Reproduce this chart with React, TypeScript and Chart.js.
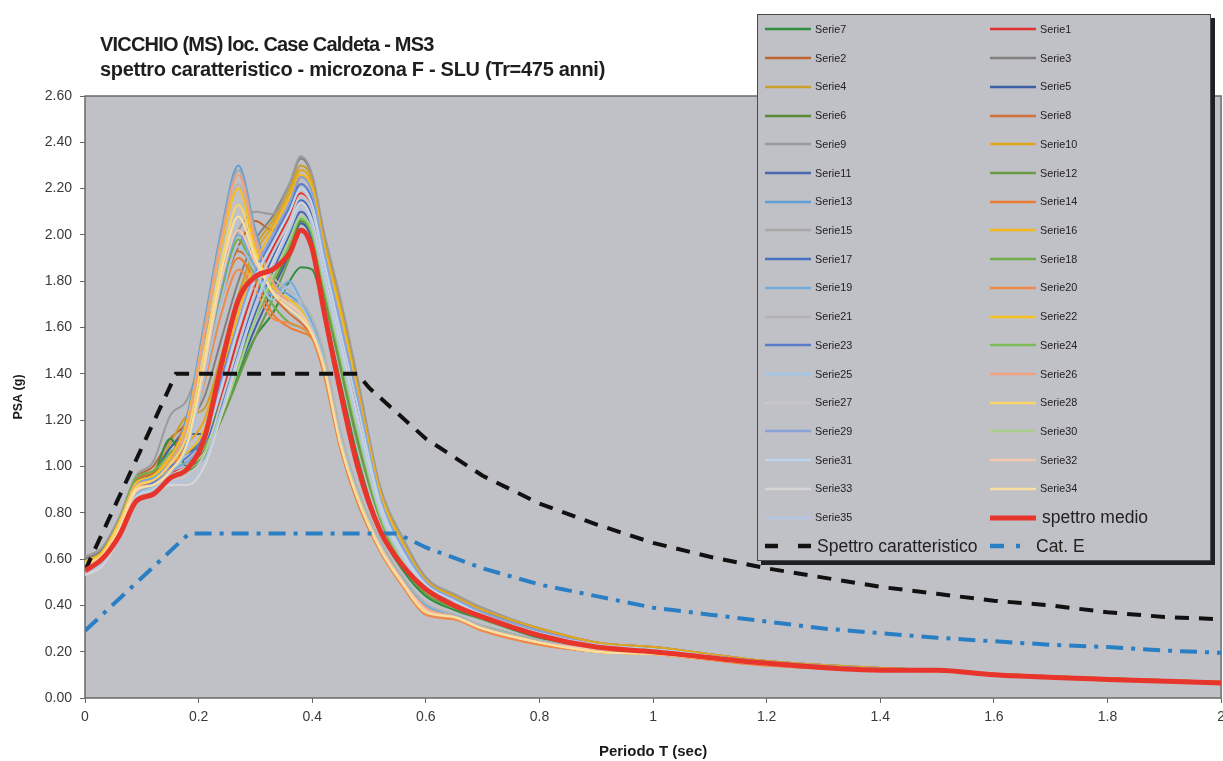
import React, { useEffect, useRef } from 'react';
import { Chart, registerables } from 'chart.js';

Chart.register(...registerables);

// ---------- DATA ----------
const T_SEC = [0, 0.03, 0.06, 0.09, 0.12, 0.15, 0.18, 0.21, 0.24, 0.27, 0.30, 0.33, 0.36, 0.38, 0.40, 0.42, 0.45, 0.48, 0.52, 0.56, 0.60, 0.65, 0.70, 0.80, 0.90, 1.0, 1.2, 1.4, 1.5, 1.6, 1.8, 2.0];

const SERIE_1 = [0.57,0.61,0.72,0.88,0.91,0.97,1.00,1.08, 1.30,1.56,1.78,1.94,2.08,2.18,2.10,1.88, 1.56,1.24,0.83,0.62,0.48,0.41,0.36,0.28, 0.23,0.21,0.15,0.12,0.12,0.10,0.08,0.066];
const SERIE_2 = [0.60,0.64,0.77,0.95,1.00,1.12,1.20,1.45, 1.76,1.95,2.06,2.02,2.12,2.25,2.20,1.98, 1.68,1.34,0.90,0.68,0.52,0.44,0.38,0.30, 0.24,0.22,0.16,0.13,0.12,0.105,0.085,0.07];
const SERIE_3 = [0.60,0.64,0.77,0.95,0.98,1.08,1.18,1.30, 1.55,1.80,1.98,2.08,2.22,2.33,2.25,2.00, 1.70,1.36,0.90,0.68,0.52,0.44,0.38,0.30, 0.24,0.22,0.16,0.13,0.12,0.105,0.085,0.07];
const SERIE_4 = [0.59,0.63,0.76,0.94,0.98,1.10,1.22,1.25, 1.48,1.74,1.95,2.06,2.20,2.30,2.24,2.00, 1.70,1.36,0.90,0.68,0.52,0.44,0.38,0.30, 0.24,0.22,0.16,0.13,0.12,0.105,0.085,0.07];
const SERIE_5 = [0.58,0.62,0.75,0.93,0.97,1.08,1.14,1.14, 1.24,1.42,1.60,1.76,1.92,2.05,1.98,1.76, 1.44,1.12,0.78,0.58,0.46,0.40,0.35,0.27, 0.22,0.21,0.15,0.12,0.115,0.10,0.08,0.066];
const SERIE_6 = [0.58,0.62,0.74,0.91,0.94,1.02,1.06,1.12, 1.28,1.46,1.64,1.78,1.94,2.06,2.00,1.78, 1.46,1.14,0.78,0.58,0.46,0.40,0.35,0.27, 0.22,0.21,0.15,0.12,0.115,0.10,0.08,0.066];
const SERIE_7 = [0.57,0.61,0.73,0.90,0.96,1.12,1.00,1.06, 1.22,1.40,1.56,1.66,1.80,1.86,1.85,1.68, 1.36,1.04,0.72,0.55,0.44,0.38,0.34,0.26, 0.22,0.20,0.15,0.12,0.115,0.10,0.08,0.066];
const SERIE_8 = [0.59,0.63,0.76,0.94,0.97,1.04,1.22,1.55, 1.80,1.93,1.86,1.74,1.66,1.62,1.56,1.42, 1.10,0.86,0.64,0.49,0.37,0.35,0.30,0.24, 0.20,0.19,0.145,0.12,0.115,0.10,0.08,0.065];
const SERIE_9 = [0.61,0.65,0.78,0.96,1.02,1.22,1.29,1.52, 1.84,2.02,2.10,2.09,2.22,2.34,2.26,2.02, 1.72,1.38,0.91,0.69,0.52,0.45,0.39,0.30, 0.24,0.22,0.16,0.13,0.12,0.105,0.085,0.07];
const SERIE_10 = [0.58,0.62,0.75,0.92,0.96,1.04,1.10,1.20, 1.45,1.70,1.92,2.04,2.18,2.28,2.22,1.98, 1.68,1.34,0.89,0.67,0.51,0.44,0.38,0.30, 0.24,0.22,0.16,0.13,0.12,0.105,0.085,0.07];
const SERIE_11 = [0.57,0.61,0.73,0.90,0.93,1.00,1.06,1.10, 1.26,1.46,1.66,1.84,2.00,2.10,2.03,1.82, 1.50,1.18,0.80,0.60,0.47,0.40,0.35,0.27, 0.22,0.21,0.15,0.12,0.115,0.10,0.08,0.066];
const SERIE_12 = [0.56,0.60,0.72,0.88,0.90,0.96,0.98,1.04, 1.20,1.38,1.56,1.72,1.90,2.02,1.96,1.74, 1.42,1.10,0.77,0.57,0.45,0.39,0.34,0.27, 0.22,0.21,0.15,0.12,0.115,0.10,0.08,0.066];
const SERIE_13 = [0.57,0.62,0.74,0.93,0.95,1.02,1.22,1.62, 2.02,2.30,2.02,1.80,1.74,1.70,1.62,1.48, 1.14,0.90,0.67,0.52,0.40,0.36,0.31,0.25, 0.21,0.20,0.15,0.125,0.115,0.10,0.08,0.066];
const SERIE_14 = [0.58,0.62,0.75,0.92,0.94,1.00,1.12,1.40, 1.72,1.90,1.80,1.66,1.60,1.58,1.55,1.40, 1.07,0.84,0.63,0.48,0.36,0.34,0.29,0.23, 0.20,0.19,0.14,0.12,0.115,0.10,0.08,0.065];
const SERIE_15 = [0.56,0.61,0.73,0.90,0.93,1.00,1.20,1.60, 2.00,2.28,2.00,1.78,1.72,1.70,1.60,1.46, 1.12,0.88,0.66,0.51,0.40,0.35,0.31,0.25, 0.21,0.20,0.15,0.125,0.115,0.10,0.08,0.066];
const SERIE_16 = [0.58,0.62,0.74,0.91,0.95,1.02,1.06,1.16, 1.40,1.66,1.88,2.02,2.16,2.26,2.20,1.96, 1.66,1.32,0.88,0.66,0.50,0.43,0.37,0.29, 0.23,0.21,0.155,0.125,0.12,0.10,0.08,0.068];
const SERIE_17 = [0.56,0.60,0.72,0.88,0.92,0.98,1.02,1.08, 1.28,1.50,1.72,1.90,2.04,2.15,2.08,1.86, 1.54,1.22,0.82,0.62,0.48,0.41,0.36,0.28, 0.23,0.21,0.15,0.12,0.12,0.10,0.08,0.066];
const SERIE_18 = [0.59,0.63,0.76,0.95,0.98,1.06,1.14,1.44, 1.76,1.98,1.82,1.70,1.62,1.60,1.56,1.44, 1.12,0.88,0.66,0.50,0.39,0.35,0.31,0.25, 0.21,0.20,0.15,0.12,0.115,0.10,0.08,0.065];
const SERIE_19 = [0.58,0.62,0.74,0.92,0.95,1.02,1.12,1.42, 1.78,2.00,1.86,1.74,1.80,1.72,1.62,1.48, 1.14,0.89,0.67,0.51,0.40,0.36,0.31,0.25, 0.21,0.20,0.15,0.125,0.115,0.10,0.08,0.066];
const SERIE_20 = [0.57,0.61,0.74,0.91,0.93,0.99,1.10,1.36, 1.66,1.85,1.76,1.64,1.62,1.60,1.56,1.41, 1.08,0.85,0.63,0.48,0.36,0.34,0.29,0.23, 0.20,0.19,0.14,0.12,0.115,0.10,0.08,0.065];
const SERIE_21 = [0.57,0.61,0.74,0.91,0.94,1.00,1.16,1.55, 1.95,2.22,1.96,1.82,1.76,1.72,1.64,1.50, 1.15,0.90,0.68,0.52,0.41,0.36,0.31,0.25, 0.21,0.20,0.15,0.125,0.115,0.10,0.08,0.066];
const SERIE_22 = [0.59,0.63,0.76,0.93,0.96,1.04,1.20,1.58, 1.96,2.20,1.94,1.78,1.72,1.68,1.60,1.46, 1.12,0.88,0.66,0.50,0.38,0.35,0.30,0.24, 0.20,0.19,0.145,0.12,0.115,0.10,0.08,0.065];
const SERIE_23 = [0.57,0.61,0.73,0.89,0.93,1.00,1.04,1.14, 1.38,1.62,1.84,1.98,2.12,2.22,2.15,1.92, 1.60,1.28,0.85,0.64,0.49,0.42,0.37,0.29, 0.23,0.21,0.155,0.125,0.12,0.10,0.08,0.068];
const SERIE_24 = [0.56,0.60,0.72,0.88,0.91,0.98,1.02,1.08, 1.24,1.44,1.64,1.80,1.96,2.07,2.00,1.78, 1.46,1.14,0.78,0.58,0.46,0.40,0.35,0.27, 0.22,0.21,0.15,0.12,0.115,0.10,0.08,0.066];
const SERIE_25 = [0.55,0.60,0.72,0.88,0.91,0.97,1.08,1.38, 1.72,1.95,1.84,1.72,1.78,1.70,1.60,1.46, 1.12,0.88,0.66,0.50,0.39,0.35,0.30,0.24, 0.21,0.20,0.15,0.12,0.115,0.10,0.08,0.065];
const SERIE_26 = [0.58,0.62,0.75,0.92,0.94,1.02,1.18,1.58, 1.98,2.26,1.98,1.80,1.70,1.66,1.58,1.44, 1.10,0.86,0.65,0.50,0.39,0.35,0.30,0.24, 0.21,0.20,0.15,0.12,0.115,0.10,0.08,0.065];
const SERIE_27 = [0.54,0.58,0.70,0.86,0.89,0.94,0.96,1.05, 1.28,1.52,1.76,1.92,2.06,2.17,2.10,1.88, 1.55,1.22,0.82,0.62,0.48,0.41,0.36,0.28, 0.23,0.21,0.15,0.12,0.12,0.10,0.08,0.066];
const SERIE_28 = [0.58,0.62,0.75,0.91,0.94,1.01,1.14,1.50, 1.88,2.13,1.92,1.76,1.70,1.66,1.58,1.44, 1.10,0.87,0.65,0.50,0.38,0.35,0.30,0.24, 0.20,0.19,0.145,0.12,0.115,0.10,0.08,0.065];
const SERIE_29 = [0.56,0.60,0.72,0.88,0.92,0.98,1.02,1.12, 1.36,1.62,1.85,2.00,2.14,2.25,2.18,1.94, 1.62,1.30,0.86,0.65,0.50,0.43,0.37,0.29, 0.23,0.21,0.155,0.125,0.12,0.10,0.08,0.068];
const SERIE_30 = [0.55,0.59,0.71,0.87,0.90,0.96,1.00,1.06, 1.22,1.42,1.64,1.82,1.98,2.08,2.02,1.80, 1.48,1.16,0.79,0.59,0.46,0.40,0.35,0.27, 0.22,0.21,0.15,0.12,0.115,0.10,0.08,0.066];
const SERIE_31 = [0.55,0.59,0.71,0.87,0.90,0.96,1.00,1.10, 1.34,1.60,1.82,1.96,2.10,2.20,2.13,1.90, 1.58,1.26,0.84,0.63,0.49,0.42,0.36,0.28, 0.23,0.21,0.15,0.125,0.12,0.10,0.08,0.067];
const SERIE_32 = [0.56,0.60,0.72,0.89,0.92,0.98,1.10,1.42, 1.80,2.02,1.88,1.76,1.70,1.66,1.58,1.44, 1.10,0.86,0.65,0.50,0.38,0.35,0.30,0.24, 0.21,0.20,0.15,0.12,0.115,0.10,0.08,0.065];
const SERIE_33 = [0.53,0.57,0.69,0.85,0.88,0.92,0.92,1.00, 1.22,1.46,1.70,1.88,2.04,2.14,2.06,1.84, 1.52,1.20,0.81,0.61,0.47,0.40,0.35,0.27, 0.22,0.21,0.15,0.12,0.115,0.10,0.08,0.066];
const SERIE_34 = [0.57,0.61,0.73,0.90,0.92,0.98,1.10,1.45, 1.84,2.08,1.90,1.75,1.68,1.64,1.57,1.43, 1.09,0.86,0.64,0.49,0.37,0.35,0.30,0.24, 0.20,0.19,0.145,0.12,0.115,0.10,0.08,0.065];
const SERIE_35 = [0.54,0.58,0.70,0.86,0.88,0.93,0.94,1.02, 1.24,1.48,1.70,1.86,2.02,2.12,2.04,1.82, 1.50,1.18,0.80,0.60,0.47,0.40,0.35,0.27, 0.22,0.21,0.15,0.12,0.115,0.10,0.08,0.066];

const SPETTRO_MEDIO = [0.55,0.60,0.70,0.85,0.88,0.95,0.99,1.12, 1.44,1.72,1.82,1.85,1.92,2.02,1.94,1.68, 1.32,1.00,0.72,0.57,0.47,0.40,0.35,0.27, 0.22,0.20,0.15,0.12,0.12,0.10,0.08,0.065];

const CARATT_T = [0, 0.16, 0.48, 0.5, 0.6, 0.7, 0.8, 0.9, 1.0, 1.1, 1.2, 1.3, 1.4, 1.5, 1.6, 1.7, 1.8, 1.9, 2.0];
const CARATT_PSA = [0.55, 1.40, 1.40, 1.34, 1.12, 0.96, 0.84, 0.75, 0.67, 0.61, 0.56, 0.52, 0.48, 0.45, 0.42, 0.40, 0.37, 0.35, 0.34];

const CATE_T = [0, 0.183, 0.55, 0.6, 0.7, 0.8, 0.9, 1.0, 1.1, 1.2, 1.3, 1.4, 1.5, 1.6, 1.7, 1.8, 1.9, 2.0];
const CATE_PSA = [0.29, 0.71, 0.71, 0.65, 0.56, 0.49, 0.44, 0.39, 0.36, 0.33, 0.30, 0.28, 0.26, 0.245, 0.23, 0.22, 0.205, 0.195];

const SERIES_VALUES = [
  SERIE_1, SERIE_2, SERIE_3, SERIE_4, SERIE_5, SERIE_6, SERIE_7, SERIE_8, SERIE_9, SERIE_10,
  SERIE_11, SERIE_12, SERIE_13, SERIE_14, SERIE_15, SERIE_16, SERIE_17, SERIE_18, SERIE_19, SERIE_20,
  SERIE_21, SERIE_22, SERIE_23, SERIE_24, SERIE_25, SERIE_26, SERIE_27, SERIE_28, SERIE_29, SERIE_30,
  SERIE_31, SERIE_32, SERIE_33, SERIE_34, SERIE_35,
];

const SERIES_COLORS = [
  '#e3312f', '#c0632e', '#808080', '#c8a02a', '#3c5fa6', '#5a8a36', '#2f8f3f', '#d2723a', '#9b9b9b', '#e0a61e',
  '#4a67b0', '#6b9b44', '#5f9fd6', '#ec7c34', '#a8a8a8', '#f4b71c', '#4670c0', '#6fae48', '#72abdc', '#f08a4a',
  '#b3b3b3', '#f6c11c', '#5a7cc8', '#7dbb55', '#9fc5e8', '#f3a07e', '#c8c8c8', '#f9d468', '#8aa4d8', '#a8cf8c',
  '#bcd5ec', '#f3c8ae', '#d6d6d6', '#f8e0a0', '#b3c6e6',
];

const LEGEND_SERIES_ORDER = [7, 1, 2, 3, 4, 5, 6, 8, 9, 10, 11, 12, 13, 14, 15, 16, 17, 18, 19, 20,
  21, 22, 23, 24, 25, 26, 27, 28, 29, 30, 31, 32, 33, 34, 35];

const TITLE_LINES = ['VICCHIO (MS) loc. Case Caldeta - MS3', 'spettro caratteristico - microzona F - SLU (Tr=475 anni)'];
const X_TITLE = 'Periodo T (sec)';
const Y_TITLE = 'PSA (g)';
const LABEL_MEDIO = 'spettro medio';
const LABEL_CARATT = 'Spettro caratteristico';
const LABEL_CATE = 'Cat. E';

// ---------- STYLE ----------
const FONT = "'Liberation Sans', Arial, sans-serif";
const PLOT_BG = '#c0c1c6';
const MEDIO_COLOR = '#e8352c';
const CARATT_COLOR = '#111111';
const CATE_COLOR = '#2a7fc4';
const CARATT_DASH = [14, 10];
const CATE_DASH = [17, 8, 4, 8];
const TITLE_SPACING = [-0.8, -0.3];

const xy = (xs: number[], ys: number[]) => xs.map((x, i) => ({ x, y: ys[i] }));

function Sample({ color, width, dash, len = 46 }: { color: string; width: number; dash?: number[]; len?: number }) {
  return (
    <svg width={len} height={10} style={{ display: 'block', flex: 'none' }}>
      <line x1={0} y1={5} x2={len} y2={5} stroke={color} strokeWidth={width}
        strokeDasharray={dash ? dash.join(' ') : undefined} />
    </svg>
  );
}

export default function App() {
  const ref = useRef<HTMLCanvasElement>(null);

  useEffect(() => {
    document.body.style.margin = '0';
    const canvas = ref.current;
    if (!canvas) return;

    const plotBg = {
      id: 'plotBg',
      beforeDraw(chart: any) {
        const { ctx, chartArea } = chart;
        const { left, top, right, bottom } = chartArea;
        ctx.save();
        ctx.fillStyle = PLOT_BG;
        ctx.fillRect(left, top, right - left, bottom - top);
        ctx.restore();
      },
      beforeDatasetsDraw(chart: any) {
        const { ctx, chartArea } = chart;
        const { left, top, right, bottom } = chartArea;
        ctx.save();
        ctx.strokeStyle = '#6a6a6a';
        ctx.lineWidth = 1.5;
        ctx.strokeRect(left, top, right - left, bottom - top);
        ctx.restore();
      },
    };

    const seriesDatasets = SERIES_VALUES.map((vals, i) => ({
      label: 'Serie' + (i + 1),
      data: xy(T_SEC, vals),
      borderColor: SERIES_COLORS[i],
      borderWidth: 2,
      pointRadius: 0,
      cubicInterpolationMode: 'monotone' as const,
      fill: false,
    })).reverse();

    const chart = new Chart(canvas, {
      type: 'line',
      data: {
        datasets: [
          {
            label: LABEL_MEDIO,
            data: xy(T_SEC, SPETTRO_MEDIO),
            borderColor: MEDIO_COLOR,
            borderWidth: 5,
            pointRadius: 0,
            cubicInterpolationMode: 'monotone',
          },
          {
            label: LABEL_CARATT,
            data: xy(CARATT_T, CARATT_PSA),
            borderColor: CARATT_COLOR,
            borderWidth: 4,
            borderDash: CARATT_DASH,
            pointRadius: 0,
            tension: 0,
          },
          {
            label: LABEL_CATE,
            data: xy(CATE_T, CATE_PSA),
            borderColor: CATE_COLOR,
            borderWidth: 4,
            borderDash: CATE_DASH,
            pointRadius: 0,
            tension: 0,
          },
          ...seriesDatasets,
        ] as any,
      },
      options: {
        animation: false,
        responsive: false,
        maintainAspectRatio: false,
        layout: { padding: { top: 96, left: 0, right: 0, bottom: 0 } },
        plugins: {
          legend: { display: false },
          tooltip: { enabled: false },
          title: { display: false },
        },
        scales: {
          x: {
            type: 'linear',
            min: 0,
            max: 2,
            ticks: {
              stepSize: 0.2,
              padding: 6,
              color: '#3a3a3a',
              font: { family: FONT, size: 14 },
              callback: (v: any) => String(Math.round(Number(v) * 10) / 10),
              maxRotation: 0,
            },
            grid: { display: true, drawOnChartArea: false, drawTicks: true, tickLength: 5, color: '#666' },
            border: { display: false },
            title: {
              display: true,
              text: X_TITLE,
              color: '#1a1a1a',
              font: { family: FONT, size: 15, weight: 'bold' },
              padding: { top: 16, bottom: 0 },
            },
            afterFit: (s: any) => { s.height = 63; },
          },
          y: {
            min: 0,
            max: 2.6,
            ticks: {
              stepSize: 0.2,
              padding: 8,
              color: '#3a3a3a',
              font: { family: FONT, size: 14 },
              callback: (v: any) => Number(v).toFixed(2),
            },
            grid: { display: true, drawOnChartArea: false, drawTicks: true, tickLength: 5, color: '#666' },
            border: { display: false },
            title: {
              display: true,
              text: Y_TITLE,
              color: '#1a1a1a',
              font: { family: FONT, size: 12.5, weight: 'bold' },
              padding: { top: 11, bottom: 0 },
            },
            afterFit: (s: any) => { s.width = 85; },
          },
        },
      } as any,
      plugins: [plotBg],
    });

    return () => chart.destroy();
  }, []);

  const legendItems: { key: string; label: string; sample: React.ReactNode; big: boolean }[] = [];
  LEGEND_SERIES_ORDER.forEach((n) => {
    legendItems.push({
      key: 'S' + n,
      label: 'Serie' + n,
      sample: <Sample color={SERIES_COLORS[n - 1]} width={2.5} />,
      big: false,
    });
  });
  legendItems.push({ key: 'medio', label: LABEL_MEDIO, sample: <Sample color={MEDIO_COLOR} width={5} />, big: true });
  legendItems.push({ key: 'caratt', label: LABEL_CARATT, sample: <Sample color={CARATT_COLOR} width={4.5} dash={[13, 20]} />, big: true });
  legendItems.push({ key: 'cate', label: LABEL_CATE, sample: <Sample color={CATE_COLOR} width={4.5} dash={[14, 12, 4, 20]} len={40} />, big: true });

  return (
    <div style={{ position: 'absolute', left: 0, top: 0, width: 1223, height: 761, background: '#ffffff', overflow: 'hidden' }}>
      <canvas ref={ref} width={1231} height={761} style={{ display: 'block', width: 1231, height: 761 }} />
      <div style={{
        position: 'absolute', left: 100, top: 32, fontFamily: FONT, fontWeight: 'bold',
        fontSize: 20, lineHeight: '25px', color: '#1e1e1e', whiteSpace: 'nowrap',
      }}>
        {TITLE_LINES.map((t, i) => <div key={t} style={{ letterSpacing: TITLE_SPACING[i] }}>{t}</div>)}
      </div>
      <div style={{
        position: 'absolute', left: 757, top: 14, width: 452, height: 545,
        background: PLOT_BG, border: '1px solid #4a4a4a', boxShadow: '4px 4px 0 #1d2124',
        display: 'grid', gridTemplateColumns: '232px 1fr', gridAutoRows: '28.72px',
        fontFamily: FONT, color: '#222',
      }}>
        {legendItems.map((it, i) => (
          <div key={it.key} style={{
            display: 'flex', alignItems: 'center', paddingLeft: i % 2 === 0 ? 7 : 0, whiteSpace: 'nowrap',
          }}>
            {it.sample}
            <span style={{ marginLeft: it.big ? 6 : 4, fontSize: it.big ? 17.5 : 10.8, lineHeight: 1 }}>{it.label}</span>
          </div>
        ))}
      </div>
    </div>
  );
}
